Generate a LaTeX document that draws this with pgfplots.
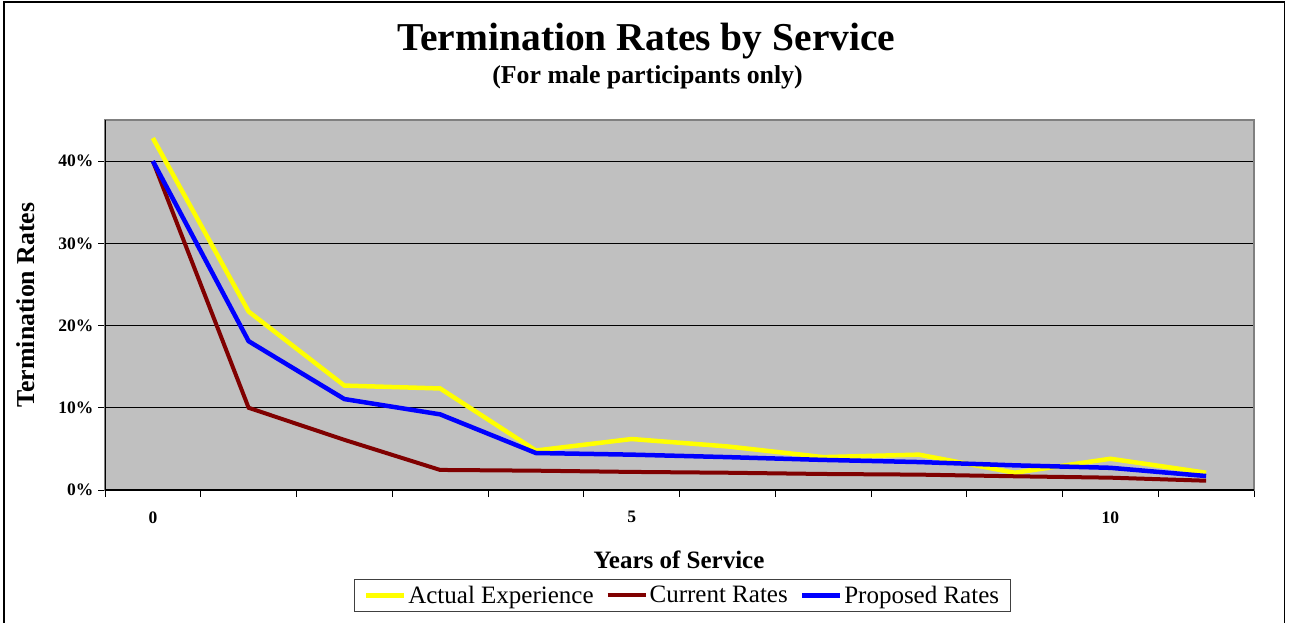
\documentclass[border=0pt]{standalone}
\usepackage{fontspec}
\setmainfont{Liberation Serif}
\usepackage{pgfplots}
\pgfplotsset{compat=1.18}
\definecolor{plotgray}{HTML}{C0C0C0}
\definecolor{frgray}{HTML}{808080}
\definecolor{cyellow}{HTML}{FFFF00}
\definecolor{cred}{HTML}{800000}
\definecolor{cblue}{HTML}{0000FF}
\begin{document}
\begin{tikzpicture}[x=1pt,y=1pt]
\useasboundingbox (0,0) rectangle (1289,622);
\draw[black, line width=1.5pt] (4,-5) rectangle (1284.5,620);
\node[anchor=base, inner sep=0pt, font=\fontsize{39.5}{42}\selectfont\bfseries] at (646.5,571) {Termination Rates by Service};
\node[anchor=base, inner sep=0pt, font=\fontsize{25.8}{28}\selectfont\bfseries] at (647.5,538) {(For male participants only)};
\node[anchor=base, inner sep=0pt, font=\fontsize{25}{28}\selectfont\bfseries] at (679,54) {Years of Service};
\node[anchor=base, rotate=90, inner sep=0pt, font=\fontsize{25.8}{28}\selectfont\bfseries] at (34,317) {Termination Rates};
\begin{axis}[
  at={(105pt,132pt)}, anchor=south west,
  scale only axis, width=1149pt, height=370pt,
  xmin=-0.5, xmax=11.5, ymin=0, ymax=45,
  axis background/.style={fill=plotgray},
  axis line style={draw=frgray, line width=1.5pt},
  ytick={0,10,20,30,40},
  yticklabels={0\%,10\%,20\%,30\%,40\%},
  ymajorgrids, major grid style={black, line width=1pt},
  xtick={-0.5,0.5,...,11.5},
  xticklabels={0,{},{},{},{},5,{},{},{},{},10,{},{}},
  xticklabel style={xshift=47.9pt, yshift=-11pt},
  yticklabel style={xshift=-1pt},
  xtick pos=bottom, ytick pos=left,
  tick align=outside, major tick length=7pt,
  tick style={black, line width=1pt},
  ticklabel style={font=\fontsize{17.5}{20}\selectfont\bfseries},
  legend columns=3,
  legend style={at={(0.5026,-0.285)}, anchor=center, draw=black!75, line width=1pt, fill=white,
    font=\fontsize{25}{28}\selectfont, inner xsep=9pt, inner ysep=5pt,
    /tikz/every even column/.append style={column sep=10pt}},
  legend image code/.code={\draw[#1] (0pt,0pt) -- (38pt,0pt);},
]
\addplot[cyellow, line width=4.5pt] coordinates {
 (0,42.8) (1,21.7) (2,12.7) (3,12.35) (4,4.8) (5,6.2) (6,5.3) (7,4.0) (8,4.3) (9,2.1) (10,3.8) (11,2.1)};
\addlegendentry{Actual Experience}
\addplot[cred, line width=4pt] coordinates {
 (0,40.0) (1,10.0) (2,6.1) (3,2.44) (4,2.35) (5,2.2) (6,2.1) (7,1.95) (8,1.87) (9,1.67) (10,1.5) (11,1.13)};
\addlegendentry{Current Rates}
\addplot[cblue, line width=4.5pt] coordinates {
 (0,40.0) (1,18.1) (2,11.06) (3,9.2) (4,4.5) (5,4.3) (6,4.0) (7,3.66) (8,3.4) (9,3.0) (10,2.7) (11,1.7)};
\addlegendentry{Proposed Rates}
\draw[black, line width=1.5pt] (rel axis cs:0,1) -- (rel axis cs:0,0) -- (rel axis cs:1,0);
\end{axis}
\end{tikzpicture}
\end{document}
